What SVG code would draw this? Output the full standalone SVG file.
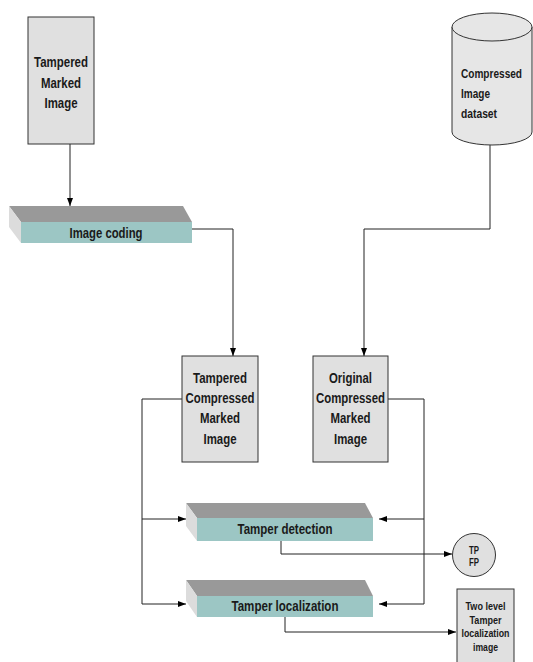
<svg xmlns="http://www.w3.org/2000/svg" width="533" height="662" viewBox="0 0 533 662">
<style>
.box{fill:#e0e0e0;stroke:#333;stroke-width:1}
.cyl{fill:#e6e6e6;stroke:#333;stroke-width:1}
.top{fill:#999999}
.side{fill:#dcdcdc}
.front{fill:#9cc6c4}
.t{font-family:"Liberation Sans Narrow","Liberation Sans",Arial,sans-serif;font-weight:bold;fill:#1a1a1a;text-anchor:middle;font-size:14px}
.s{font-size:11px}
.xs{font-size:10px}
.c{font-size:12.5px;text-anchor:start}
.ln{fill:none;stroke:#222;stroke-width:1}
</style>
<defs>
<marker id="ah" viewBox="0 0 8 8" refX="8" refY="4" markerWidth="8" markerHeight="8" markerUnits="userSpaceOnUse" orient="auto">
<path d="M0,1 L8,4 L0,7 Z" fill="#000"/>
</marker>
</defs>

<g id="connectors">
<path class="ln" d="M70,144 V206" marker-end="url(#ah)"/>
<path class="ln" d="M192,229 H233 V356" marker-end="url(#ah)"/>
<path class="ln" d="M490,145 V229 H364 V356" marker-end="url(#ah)"/>
<path class="ln" d="M182,399 H142 V604 H186" marker-end="url(#ah)"/>
<path class="ln" d="M142,519 H186" marker-end="url(#ah)"/>
<path class="ln" d="M388,399 H424 V604 H379" marker-end="url(#ah)"/>
<path class="ln" d="M424,519 H379" marker-end="url(#ah)"/>
<path class="ln" d="M281,541 V554 H452" marker-end="url(#ah)"/>
<path class="ln" d="M285,617 V632 H456" marker-end="url(#ah)"/>
</g>

<g id="tampered-marked-image">
<rect class="box" x="28" y="17" width="66" height="127"/>
<text class="t" x="61" y="67" textLength="54" lengthAdjust="spacingAndGlyphs">Tampered</text>
<text class="t" x="61" y="88" textLength="40" lengthAdjust="spacingAndGlyphs">Marked</text>
<text class="t" x="61" y="108" textLength="33" lengthAdjust="spacingAndGlyphs">Image</text>
</g>

<g id="compressed-image-dataset">
<path class="cyl" d="M452,27 V132 A40,13 0 0 0 532,132 V27"/>
<ellipse class="cyl" cx="492" cy="27" rx="40" ry="14"/>
<text class="t c" x="461" y="78" textLength="61" lengthAdjust="spacingAndGlyphs">Compressed</text>
<text class="t c" x="461" y="98" textLength="29" lengthAdjust="spacingAndGlyphs">Image</text>
<text class="t c" x="461" y="118" textLength="36" lengthAdjust="spacingAndGlyphs">dataset</text>
</g>

<g id="image-coding">
<polygon class="top" points="9,206 183,206 192,222 21,222"/>
<polygon class="side" points="9,206 21,222 21,243 9,227"/>
<rect class="front" x="21" y="222" width="171" height="21"/>
<text class="t" x="106" y="238" textLength="73" lengthAdjust="spacingAndGlyphs">Image coding</text>
</g>

<g id="tampered-compressed-marked-image">
<rect class="box" x="182" y="356" width="76" height="106"/>
<text class="t" x="220" y="383" textLength="54" lengthAdjust="spacingAndGlyphs">Tampered</text>
<text class="t" x="220" y="403" textLength="69" lengthAdjust="spacingAndGlyphs">Compressed</text>
<text class="t" x="220" y="423" textLength="40" lengthAdjust="spacingAndGlyphs">Marked</text>
<text class="t" x="220" y="444" textLength="33" lengthAdjust="spacingAndGlyphs">Image</text>
</g>

<g id="original-compressed-marked-image">
<rect class="box" x="313" y="356" width="75" height="106"/>
<text class="t" x="350.5" y="383" textLength="43" lengthAdjust="spacingAndGlyphs">Original</text>
<text class="t" x="350.5" y="403" textLength="69" lengthAdjust="spacingAndGlyphs">Compressed</text>
<text class="t" x="350.5" y="423" textLength="40" lengthAdjust="spacingAndGlyphs">Marked</text>
<text class="t" x="350.5" y="444" textLength="33" lengthAdjust="spacingAndGlyphs">Image</text>
</g>

<g id="tamper-detection">
<polygon class="top" points="186,503 365,503 373,518 197,518"/>
<polygon class="side" points="186,503 197,518 197,541 186,526"/>
<rect class="front" x="197" y="518" width="176" height="23"/>
<text class="t" x="285" y="534" textLength="95" lengthAdjust="spacingAndGlyphs">Tamper detection</text>
</g>

<g id="tamper-localization">
<polygon class="top" points="186,580 365,580 373,596 197,596"/>
<polygon class="side" points="186,580 197,596 197,617 186,601"/>
<rect class="front" x="197" y="596" width="176" height="21"/>
<text class="t" x="285" y="611" textLength="107" lengthAdjust="spacingAndGlyphs">Tamper localization</text>
</g>

<g id="tp-fp">
<circle class="box" cx="474" cy="555" r="21.5"/>
<text class="t xs" x="474" y="554" textLength="10" lengthAdjust="spacingAndGlyphs">TP</text>
<text class="t xs" x="474" y="566" textLength="10" lengthAdjust="spacingAndGlyphs">FP</text>
</g>

<g id="two-level-tamper-localization-image">
<rect class="box" x="457" y="589" width="57" height="80"/>
<text class="t s" x="485.5" y="610" textLength="40" lengthAdjust="spacingAndGlyphs">Two level</text>
<text class="t s" x="485.5" y="624" textLength="32" lengthAdjust="spacingAndGlyphs">Tamper</text>
<text class="t s" x="485.5" y="637" textLength="48" lengthAdjust="spacingAndGlyphs">localization</text>
<text class="t s" x="485.5" y="651" textLength="25" lengthAdjust="spacingAndGlyphs">image</text>
</g>
</svg>
